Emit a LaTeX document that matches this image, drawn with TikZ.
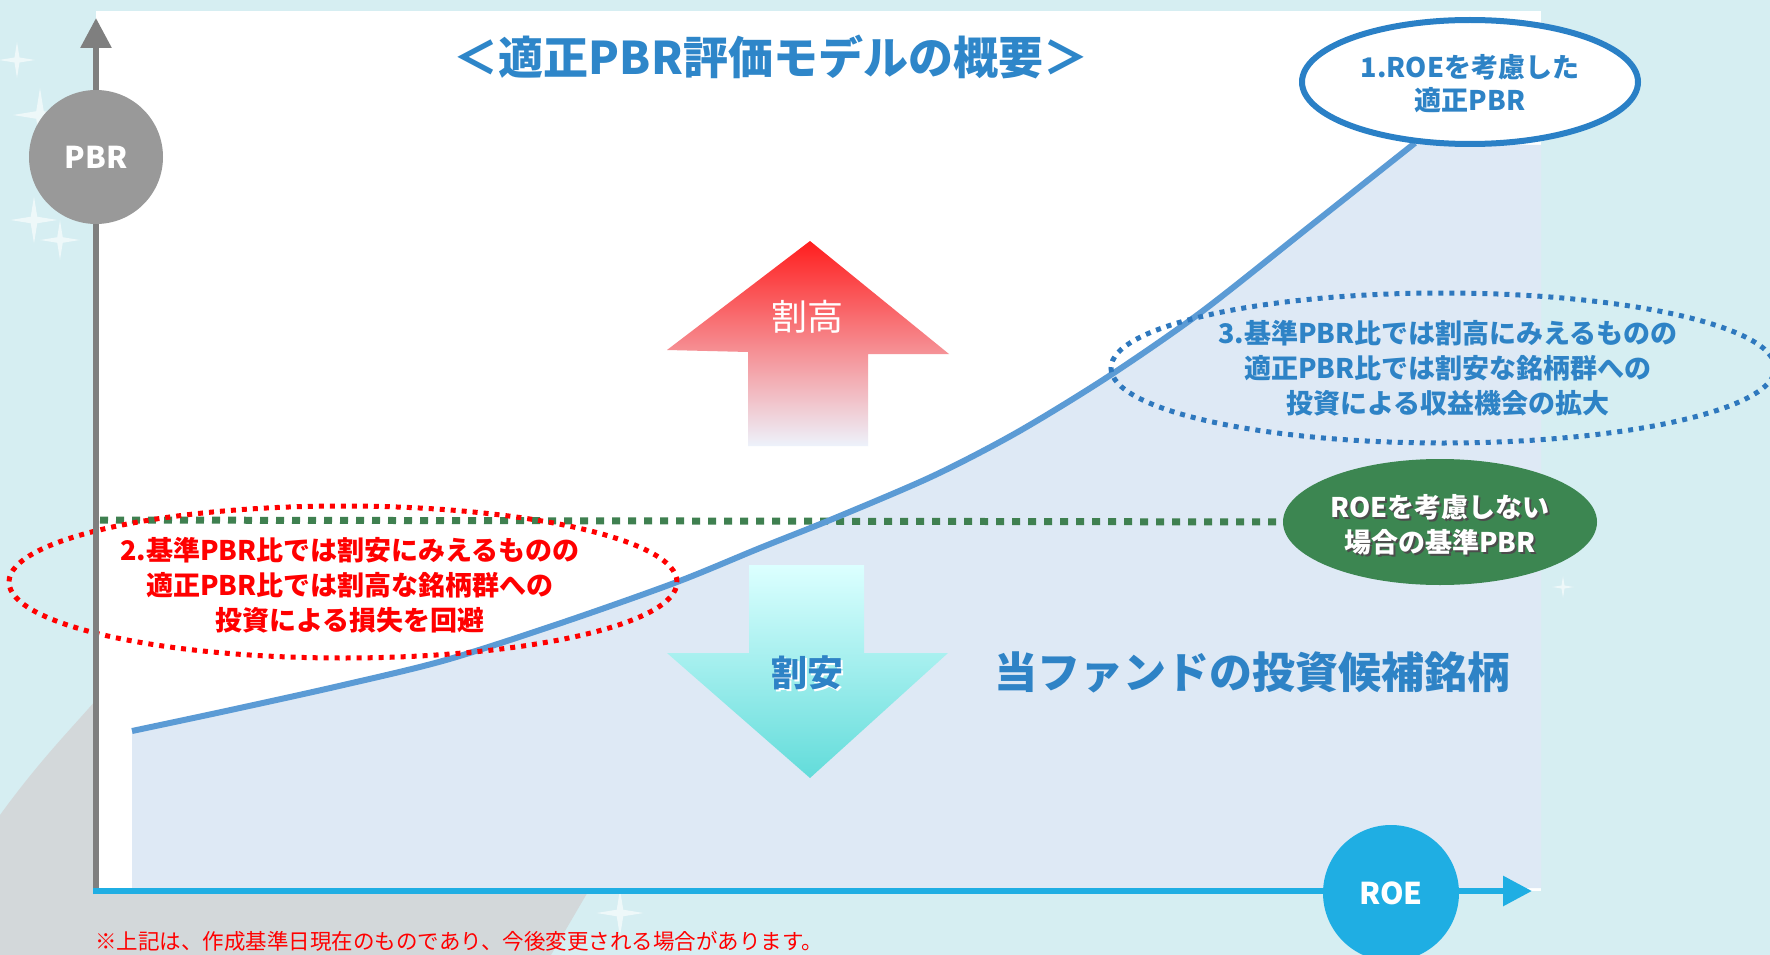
\documentclass[tikz,border=0pt]{standalone}
\usepackage{fontspec}
\setmainfont{Noto Sans CJK JP}
\usetikzlibrary{shapes.geometric,arrows.meta}
\definecolor{bg}{HTML}{D6EEF2}
\definecolor{titleblue}{HTML}{2E86C9}
\definecolor{curveblue}{HTML}{5B9BD5}
\definecolor{fillblue}{HTML}{DEE9F5}
\definecolor{axgray}{HTML}{7F7F7F}
\definecolor{circgray}{HTML}{999999}
\definecolor{roeblue}{HTML}{1FAEE3}
\definecolor{dgreen}{HTML}{3F8050}
\definecolor{ellgreen}{HTML}{3C8651}
\definecolor{ellblue}{HTML}{2A80C6}
\definecolor{dotblue}{HTML}{2E78BE}
\definecolor{textblue}{HTML}{2E83C6}
\definecolor{mount}{HTML}{D3D8DA}
\definecolor{redtop}{HTML}{FF1E1E}
\definecolor{redmid}{HTML}{F8B6C0}
\definecolor{redbot}{HTML}{EDF2FB}
\definecolor{cyantop}{HTML}{DCFFFF}
\definecolor{cyanmid}{HTML}{B8F3F1}
\definecolor{cyanbot}{HTML}{62DCDA}
\tikzset{
  spark/.pic={\fill[white,opacity=0.6] (0,-18) -- (2.5,-2.5) -- (18,0) -- (2.5,2.5) -- (0,18) -- (-2.5,2.5) -- (-18,0) -- (-2.5,-2.5) -- cycle;},
  bigtext/.style={font=\bfseries\fontsize{27}{35}\selectfont, align=center, inner sep=0pt},
  dotline/.style={line width=5pt, dash pattern=on 5pt off 6pt},
  axisline/.style={line width=6pt},
  bubble/.style={ellipse, inner sep=0pt},
}
\begin{document}
\begin{tikzpicture}[x=1pt,y=-1pt]
\fill[bg] (0,0) rectangle (1770,955);
\useasboundingbox (0,0) rectangle (1770,955);
% background photo hints
\fill[mount] (0,815) .. controls (40,760) and (70,730) .. (96,700) -- (700,700) -- (551,955) -- (0,955) -- cycle;
\pic at (17,60) {spark};
\pic[scale=1.5] at (40,115) {spark};
\pic[scale=1.3] at (34,220) {spark};
\pic[scale=1.1] at (60,240) {spark};
\pic[scale=1.3] at (620,913) {spark};
\pic[scale=0.6] at (1563,587) {spark};
% panel
\fill[white] (96,11) rectangle (1541,891);
% area under curve
\fill[fillblue] plot[smooth] coordinates {(132,731) (226,711) (339,686) (446,660) (564,622) (677,582) (760,548) (835,518) (933,476) (1016,433) (1106,378) (1200,313) (1309,227) (1415,143)} -- (1541,145) -- (1541,888) -- (132,888) -- cycle;
% up arrow (overvalued)
\shade[top color=redtop, middle color=redmid, bottom color=redbot]
  (810,241) -- (949,354) -- (868,354) -- (868,446) -- (748,446) -- (748,352) -- (667,350) -- cycle;
\node[font=\fontsize{36}{36}\selectfont, text=white, inner sep=0pt] (takai) at (807,317) {割高};
% down arrow (undervalued)
\shade[top color=cyantop, middle color=cyanmid, bottom color=cyanbot]
  (749,565) -- (864,565) -- (864,653) -- (948,653) -- (810,778) -- (667,653) -- (749,653) -- cycle;
\node[font=\bfseries\fontsize{36}{36}\selectfont, text=white, inner sep=0pt] at (809,675) {割安};
\node[font=\bfseries\fontsize{36}{36}\selectfont, text=textblue, inner sep=0pt] (yasui) at (807,673) {割安};
% green benchmark ellipse and dotted line
\node[bubble, fill=ellgreen, minimum width=314pt, minimum height=126pt] (bench) at (1440,522) {};
\coordinate (benchstart) at (100,520);
\draw[dgreen, line width=7pt, dash pattern=on 8pt off 8pt] (benchstart) -- (bench.west);
\node[bigtext, text=black!70] at (1442,527) {ROEを考慮しない\\場合の基準PBR};
\node[bigtext, text=white] (benchtext) at (1440,525) {ROEを考慮しない\\場合の基準PBR};
% curve
\draw[curveblue, line width=6pt] plot[smooth] coordinates {(132,731) (226,711) (339,686) (446,660) (564,622) (677,582) (760,548) (835,518) (933,476) (1016,433) (1106,378) (1200,313) (1309,227) (1415,143)};
% ellipse 2 (red)
\node[bubble, draw=red, dotline, minimum width=668pt, minimum height=152pt] (ell2) at (343,582) {};
\node[bigtext, text=red] (t2) at (350,585) {2.基準PBR比では割安にみえるものの\\適正PBR比では割高な銘柄群への\\投資による損失を回避};
% ellipse 3 (blue dotted)
\node[bubble, draw=dotblue, dotline, minimum width=664pt, minimum height=150pt] (ell3) at (1443,368) {};
\node[bigtext, text=textblue] (t3) at (1448,368) {3.基準PBR比では割高にみえるものの\\適正PBR比では割安な銘柄群への\\投資による収益機会の拡大};
% candidates label
\node[font=\bfseries\fontsize{43}{43}\selectfont, text=textblue, inner sep=0pt] (cand) at (1252,672) {当ファンドの投資候補銘柄};
% axes
\coordinate (ybot) at (96,894);
\coordinate (ytop) at (96,18);
\draw[axgray, axisline, -{Triangle[length=30pt,width=30pt]}] (ybot) -- (ytop);
\coordinate (xleft) at (93,891);
\coordinate (xright) at (1532,891);
\draw[roeblue, axisline, -{Triangle[length=29pt,width=29pt]}] (xleft) -- (xright);
\node[circle, fill=circgray, minimum size=134pt, inner sep=0pt, text=white, font=\bfseries\fontsize{30}{30}\selectfont] (pbr) at (96,157) {PBR};
\node[circle, fill=roeblue, minimum size=136pt, inner sep=0pt, text=white, font=\bfseries\fontsize{30}{30}\selectfont] (roe) at (1391,893) {ROE};
% ellipse 1
\node[bubble, draw=ellblue, line width=6pt, fill=white, minimum width=336pt, minimum height=124pt] (ell1) at (1470,82) {};
\node[font=\bfseries\fontsize{27}{33}\selectfont, align=center, inner sep=0pt, text=textblue] (t1) at (1470,84) {1.ROEを考慮した\\適正PBR};
% title
\node[font=\bfseries\fontsize{45}{45}\selectfont, text=titleblue, inner sep=0pt] (title) at (771,57) {＜適正PBR評価モデルの概要＞};
% footnote
\node[font=\fontsize{21.5}{21.5}\selectfont, text=red, anchor=west, inner sep=0pt] (note) at (95,941) {※上記は、作成基準日現在のものであり、今後変更される場合があります。};
\end{tikzpicture}
\end{document}
